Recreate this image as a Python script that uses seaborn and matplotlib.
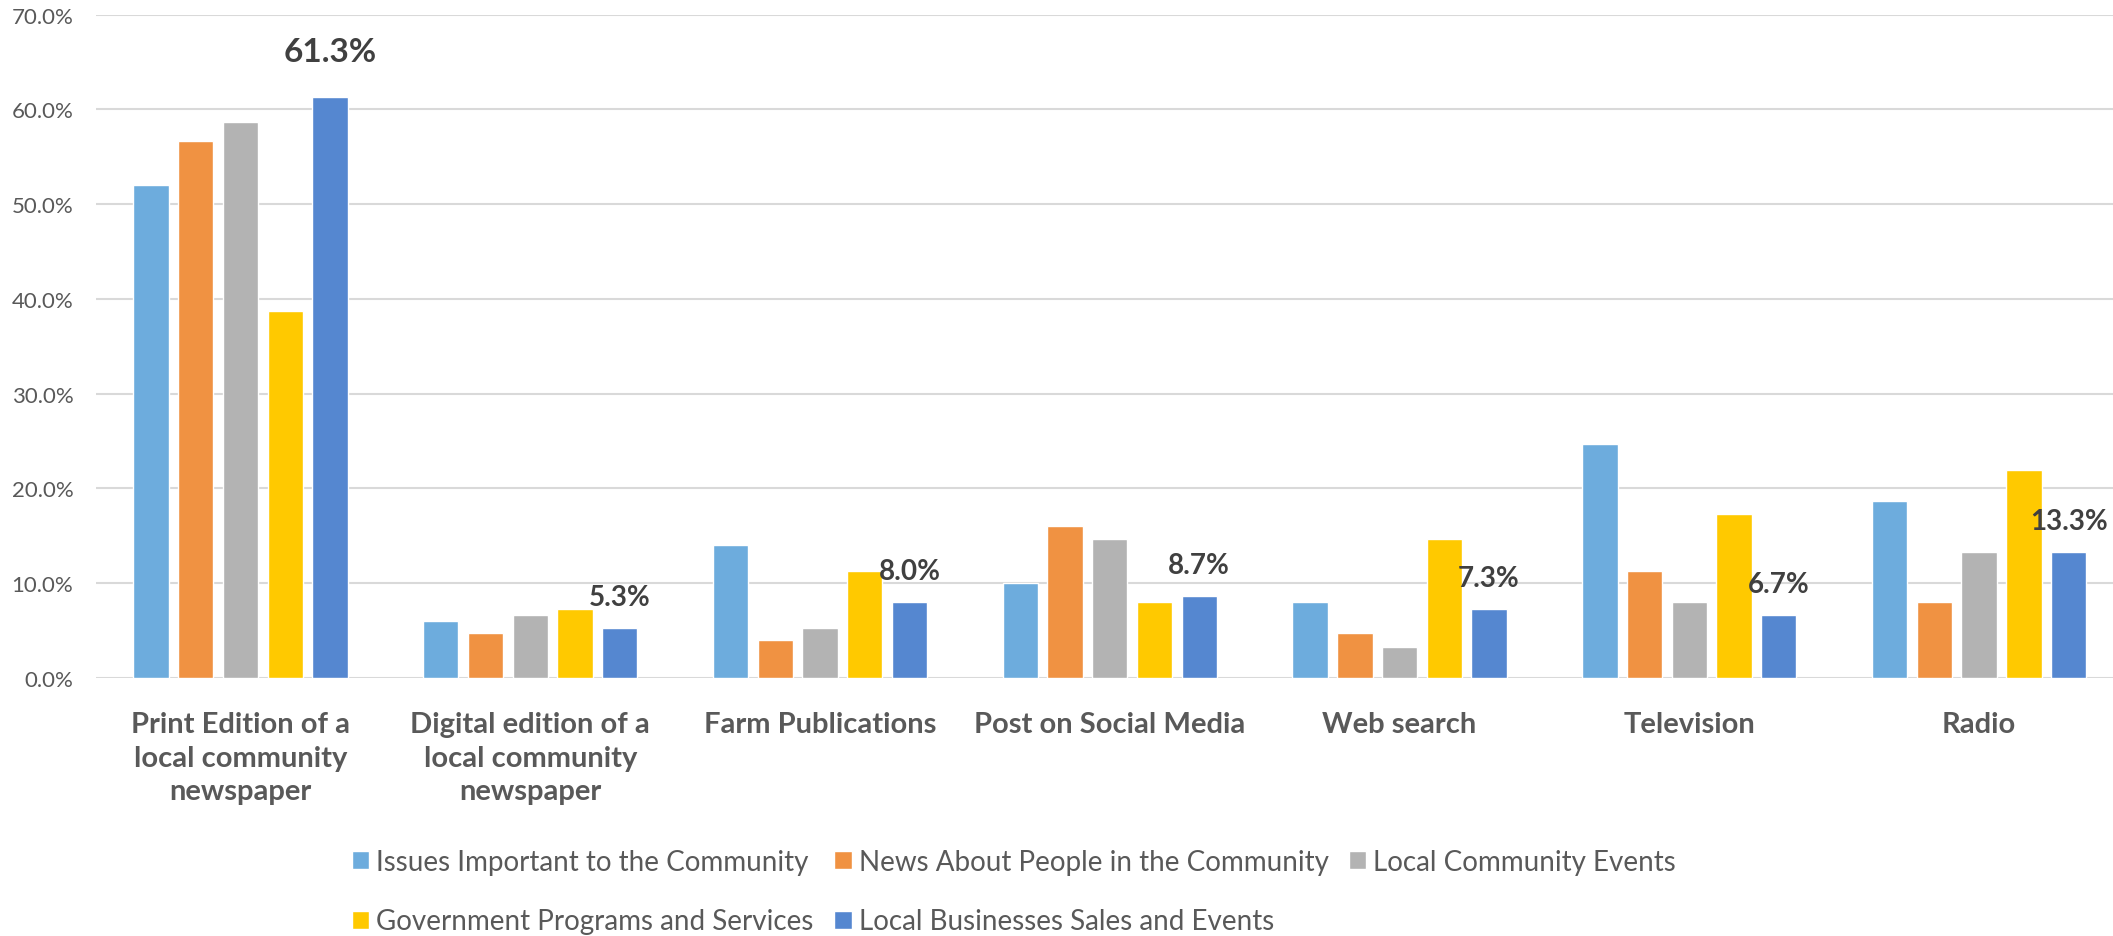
"""뉴스 매체별 선호도 막대그래프"""
import matplotlib
matplotlib.use('Agg')
import matplotlib.pyplot as plt
import seaborn as sns
import pandas as pd

# 데이터
categories = ['Print Edition of a\nlocal community\nnewspaper',
              'Digital edition of a\nlocal community\nnewspaper',
              'Farm Publications', 'Post on Social Media', 'Web search',
              'Television', 'Radio']
series = ['Issues Important to the Community',
          'News About People in the Community',
          'Local Community Events',
          'Government Programs and Services',
          'Local Businesses Sales and Events']
issues = [52.0, 6.0, 14.0, 10.0, 8.0, 24.7, 18.7]
people = [56.7, 4.7, 4.0, 16.0, 4.7, 11.3, 8.0]
events = [58.7, 6.7, 5.3, 14.7, 3.3, 8.0, 13.3]
government = [38.7, 7.3, 11.3, 8.0, 14.7, 17.3, 22.0]
business = [61.3, 5.3, 8.0, 8.7, 7.3, 6.7, 13.3]
colors = ['#6DACDD', '#F09242', '#B3B3B3', '#FFC900', '#5587D0']

df = pd.DataFrame({'category': categories * 5,
                   'series': [s for s in series for _ in categories],
                   'value': issues + people + events + government + business})

sns.set_theme(style='white')
plt.rcParams['font.family'] = ['Lato', 'DejaVu Sans']
text_color = '#595959'

fig = plt.figure(figsize=(21.13, 9.37), dpi=100)
ax = fig.add_axes([95.6 / 2113, 1 - 679 / 937, (2124 - 95.6) / 2113, (679 - 15.7) / 937])

sns.barplot(data=df, x='category', y='value', hue='series', hue_order=series,
            palette=colors, width=0.772, gap=0.21, saturation=1, ax=ax)

ax.set_ylim(0, 70)
ax.set_xlim(-0.5, 6.5)
ax.set_yticks(range(0, 71, 10))
ax.set_yticklabels([f'{v:.1f}%' for v in range(0, 71, 10)])
ax.yaxis.grid(True, color='#D9D9D9', linewidth=1.5)
ax.set_axisbelow(True)
for s in ax.spines.values():
    s.set_visible(False)
ax.tick_params(axis='y', length=0, pad=16, labelsize=16, labelcolor=text_color)
ax.tick_params(axis='x', length=0, pad=24, labelsize=21, labelcolor=text_color)
for lbl in ax.get_xticklabels():
    lbl.set_fontweight('bold')
    lbl.set_linespacing(1.35)
ax.set_xlabel('')
ax.set_ylabel('')

# 마지막 시리즈 값 표시
for i, bar in enumerate(ax.containers[4]):
    big = i == 0
    ax.annotate(f'{business[i]:.1f}%',
                xy=(bar.get_x() + bar.get_width() / 2, bar.get_height()),
                xytext=(0, 46 if big else 31), textcoords='offset pixels',
                ha='center', va='center', fontweight='bold',
                fontsize=24 if big else 20, color='#404040')

# 범례
handles, labels = ax.get_legend_handles_labels()
ax.get_legend().remove()
order = [0, 3, 1, 4, 2]
fig.legend([handles[i] for i in order], [labels[i] for i in order],
           ncol=3, loc='upper left', bbox_to_anchor=(352 / 2113, 1 - 850 / 937),
           frameon=False, fontsize=20, labelcolor=text_color,
           handlelength=0.62, handleheight=0.62, handletextpad=0.25,
           labelspacing=1.2, columnspacing=0.75, borderaxespad=0, borderpad=0)

plt.savefig('out.png', dpi=100)
